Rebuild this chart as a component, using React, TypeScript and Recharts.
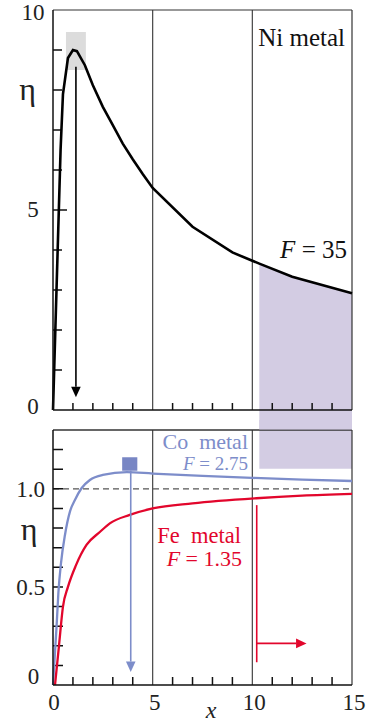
import React from 'react';
import {
  ComposedChart,
  Line,
  Area,
  XAxis,
  YAxis,
  ReferenceLine,
  ReferenceArea,
} from 'recharts';

// ---------- data ----------
const niX = [0, 0.38, 0.5, 0.75, 1.0, 1.2, 1.6, 2.0, 2.5, 3.0, 3.5, 4.0, 4.5, 5, 7, 9, 10, 10.35, 12, 15];
const niEta = [0, 6.5, 7.9, 8.8, 9.0, 8.97, 8.62, 8.12, 7.58, 7.12, 6.66, 6.27, 5.9, 5.55, 4.58, 3.94, 3.73, 3.66, 3.33, 2.92];
const NI_SHADE_FROM = 10.35;

const coX = [0, 0.18, 0.27, 0.4, 0.6, 0.85, 1.1, 1.43, 1.85, 2.5, 3.7, 5, 7.5, 10, 12.5, 15];
const coEta = [0, 0.3, 0.47, 0.62, 0.765, 0.884, 0.943, 1.003, 1.045, 1.071, 1.085, 1.078, 1.066, 1.056, 1.047, 1.04];

const feX = [0.1, 0.3, 0.5, 0.75, 1.15, 1.68, 2.35, 2.85, 3.85, 5, 7, 10.2, 12.5, 15];
const feEta = [0, 0.2, 0.4, 0.5, 0.61, 0.714, 0.78, 0.824, 0.867, 0.9, 0.926, 0.952, 0.965, 0.974];

const X_MINOR = [1, 2, 3, 4, 6, 7, 8, 9, 11, 12, 13, 14];
const X_LABELS = [0, 5, 10, 15];
const TOP_Y_TICKS = [0, 5, 10];
const TOP_Y_MINOR = [1, 2, 3, 4, 5, 6, 7, 8, 9];
const BOT_Y_TICKS = [0, 0.5, 1.0];
const BOT_Y_MINOR = [0.1, 0.2, 0.3, 0.4, 0.5, 0.6, 0.7, 0.8, 0.9, 1.0, 1.1, 1.2];
const BOT_Y_LABELS: Record<string, string> = { '0': '0', '0.5': '0.5', '1': '1.0' };

// annotations (data coordinates)
const niPeakBox = { x1: 0.65, x2: 1.65, y1: 8.5, y2: 9.45 };
const niArrow = { x: 1.15, from: 8.58, to: 0.32 };
const shadeX = { x1: 10.35, x2: 15 };
const shadeBottomY = 1.103;
const coSquare = { x1: 3.47, x2: 4.23, y1: 1.0925, y2: 1.161 };
const coArrow = { x: 3.9, from: 1.0925, to: 0.066 };
const feBar = { x: 10.22, from: 0.917, to: 0.116 };
const feArrow = { y: 0.212, from: 10.22, to: 12.72 };

const niData = niX.map((x, i) => ({
  x,
  eta: niEta[i],
  shade: x >= NI_SHADE_FROM ? niEta[i] : null,
}));
const coData = coX.map((x, i) => ({ x, eta: coEta[i] }));
const feData = feX.map((x, i) => ({ x, eta: feEta[i] }));

// ---------- styles ----------
const FONT = "'Liberation Serif', 'Times New Roman', Times, serif";
const BLUE = '#7d8dca';
const BLUE_SQ = '#7886c4';
const RED = '#e2062c';
const PURPLE = '#d3cce3';
const GRID = '#444';
const FRAME = '#333';

const txt = (size: number, fill: string, extra: React.CSSProperties = {}): React.CSSProperties => ({
  fontFamily: FONT,
  fontSize: size,
  fill,
  ...extra,
});

// ---------- custom shapes ----------
const ArrowShape = (p: any) => {
  const { x1, y1, x2, y2, stroke, strokeWidth } = p;
  const dx = x2 - x1;
  const dy = y2 - y1;
  const L = Math.hypot(dx, dy) || 1;
  const ux = dx / L;
  const uy = dy / L;
  const hl = 10.5;
  const hw = 4.8;
  const bx = x2 - ux * hl;
  const by = y2 - uy * hl;
  return (
    <g>
      <path d={`M${x1},${y1}L${bx},${by}`} stroke={stroke} strokeWidth={strokeWidth} fill="none" />
      <path
        d={`M${x2},${y2}L${bx - uy * hw},${by + ux * hw}L${bx + uy * hw},${by - ux * hw}Z`}
        fill={stroke}
        stroke="none"
      />
    </g>
  );
};

// inward ticks along an axis segment that runs from domain start (d0) to domain end (d1)
const makeAxisTicks = (values: number[], d0: number, d1: number, len: (v: number) => number, dir: 'h' | 'v') =>
  (p: any) => {
    const { x1, y1, x2, y2, stroke, strokeWidth } = p;
    const parts = values.map((v) => {
      const t = (v - d0) / (d1 - d0);
      const px = x1 + (x2 - x1) * t;
      const py = y1 + (y2 - y1) * t;
      const l = len(v);
      return dir === 'h' ? `M${px},${py}L${px + l},${py}` : `M${px},${py}L${px},${py - l}`;
    });
    return <path d={parts.join('')} stroke={stroke} strokeWidth={strokeWidth} fill="none" />;
  };

const topYTicksShape = makeAxisTicks(TOP_Y_MINOR, 0, 10, (v) => (v === 5 ? 14 : 9), 'h');
const topXTicksShape = makeAxisTicks(X_MINOR, 0, 15, () => 7, 'v');
const botYTicksShape = makeAxisTicks(BOT_Y_MINOR, 0, 1.3, () => 10, 'h');
const botXTicksShape = makeAxisTicks(X_MINOR, 0, 15, () => 8, 'v');

const TOP_Y_BASELINE: Record<number, number> = { 0: 4, 5: 7, 10: 10 };

const renderTopYTick = (props: any) => {
  const x = Number(props.x);
  const y = Number(props.y);
  const v = props.payload.value;
  return (
    <text key={`ty-${v}`} x={x - 20} y={y + (TOP_Y_BASELINE[v] ?? 7)} textAnchor="middle" style={txt(23, '#222')}>
      {v}
    </text>
  );
};

const renderBotYTick = (props: any) => {
  const x = Number(props.x);
  const y = Number(props.y);
  const v = props.payload.value;
  const label = BOT_Y_LABELS[String(v)] ?? String(v);
  const isZero = label === '0';
  return (
    <text
      key={`by-${v}`}
      x={isZero ? x - 19.5 : x - 8}
      y={isZero ? y - 1 : y + 8}
      textAnchor={isZero ? 'middle' : 'end'}
      style={txt(23, '#222')}
    >
      {label}
    </text>
  );
};

const renderBotXTick = (props: any) => {
  const x = Number(props.x);
  const y = Number(props.y);
  const v = props.payload.value;
  return (
    <text key={`bx-${v}`} x={v === 0 ? x + 1 : x + 2} y={y + 25} textAnchor="middle" style={txt(23, '#222')}>
      {v}
    </text>
  );
};

// ---------- charts ----------
// top panel: plot x 53..352, y 10..410 ; svg height 432
const TopChart = () => (
  <ComposedChart width={369} height={432} margin={{ top: 10, right: 17, bottom: 21, left: 52 }} data={niData}>
    <XAxis
      type="number"
      dataKey="x"
      domain={[0, 15]}
      ticks={X_LABELS}
      interval={0}
      height={1}
      tickSize={0}
      tickMargin={0}
      tickLine={false}
      axisLine={{ stroke: '#111', strokeWidth: 1.5 }}
      tick={false}
    />
    <YAxis
      type="number"
      domain={[0, 10]}
      ticks={TOP_Y_TICKS}
      interval={0}
      width={1}
      tickSize={0}
      tickMargin={0}
      tickLine={false}
      axisLine={{ stroke: '#111', strokeWidth: 1.5 }}
      tick={renderTopYTick}
    />
    <ReferenceArea {...niPeakBox} fill="#dcdcdc" fillOpacity={1} stroke="none" />
    <Area
      dataKey="shade"
      type="linear"
      fill={PURPLE}
      fillOpacity={1}
      stroke="none"
      isAnimationActive={false}
      dot={false}
      activeDot={false}
    />
    <ReferenceArea
      x1={shadeX.x1}
      x2={shadeX.x2}
      y1={-0.485}
      y2={0}
      ifOverflow="visible"
      fill={PURPLE}
      fillOpacity={1}
      stroke="none"
    />
    <ReferenceLine x={5} stroke={GRID} strokeWidth={1.2} />
    <ReferenceLine x={10} stroke={GRID} strokeWidth={1.2} />
    <ReferenceLine y={10} stroke={FRAME} strokeWidth={1.2} />
    <ReferenceLine x={15} stroke={FRAME} strokeWidth={1.2} />
    <ReferenceLine
      segment={[
        { x: 0, y: 0 },
        { x: 0, y: 10 },
      ]}
      stroke="#111"
      strokeWidth={1.5}
      shape={topYTicksShape}
    />
    <ReferenceLine
      segment={[
        { x: 0, y: 0 },
        { x: 15, y: 0 },
      ]}
      stroke="#111"
      strokeWidth={1.5}
      shape={topXTicksShape}
    />
    <Line
      dataKey="eta"
      type="linear"
      stroke="#000"
      strokeWidth={2.6}
      dot={false}
      activeDot={false}
      isAnimationActive={false}
    />
    <ReferenceLine
      segment={[
        { x: niArrow.x, y: niArrow.from },
        { x: niArrow.x, y: niArrow.to },
      ]}
      stroke="#000"
      strokeWidth={1.6}
      shape={ArrowShape}
    />
    <text x={345} y={46} textAnchor="end" style={txt(25, '#111')}>
      Ni metal
    </text>
    <text x={347} y={258} textAnchor="end" style={txt(25, '#111')}>
      <tspan style={{ fontStyle: 'italic' }}>F</tspan>
      <tspan> = 35</tspan>
    </text>
    <text x={27.5} y={100} textAnchor="middle" style={txt(32, '#222')}>
      η
    </text>
  </ComposedChart>
);

// bottom panel: plot x 53..352, page y 430..685 ; svg placed at page y 420
const BottomChart = () => (
  <ComposedChart width={369} height={307} margin={{ top: 10, right: 17, bottom: 41, left: 52 }}>
    <XAxis
      type="number"
      dataKey="x"
      domain={[0, 15]}
      ticks={X_LABELS}
      interval={0}
      height={1}
      tickSize={0}
      tickMargin={0}
      tickLine={false}
      axisLine={{ stroke: '#111', strokeWidth: 1.5 }}
      tick={renderBotXTick}
    />
    <YAxis
      type="number"
      domain={[0, 1.3]}
      ticks={BOT_Y_TICKS}
      interval={0}
      width={1}
      tickSize={0}
      tickMargin={0}
      tickLine={false}
      axisLine={{ stroke: '#111', strokeWidth: 1.5 }}
      tick={renderBotYTick}
    />
    <ReferenceArea
      x1={shadeX.x1}
      x2={shadeX.x2}
      y1={shadeBottomY}
      y2={1.351}
      ifOverflow="visible"
      fill={PURPLE}
      fillOpacity={1}
      stroke="none"
    />
    <ReferenceLine x={5} stroke={GRID} strokeWidth={1.2} />
    <ReferenceLine x={10} stroke={GRID} strokeWidth={1.2} />
    <ReferenceLine y={1.3} stroke={FRAME} strokeWidth={1.3} />
    <ReferenceLine x={15} stroke={FRAME} strokeWidth={1.2} />
    <ReferenceLine y={1} stroke="#555" strokeWidth={1.3} strokeDasharray="6 4" />
    <ReferenceLine
      segment={[
        { x: 0, y: 0 },
        { x: 0, y: 1.3 },
      ]}
      stroke="#111"
      strokeWidth={1.5}
      shape={botYTicksShape}
    />
    <ReferenceLine
      segment={[
        { x: 0, y: 0 },
        { x: 15, y: 0 },
      ]}
      stroke="#111"
      strokeWidth={1.5}
      shape={botXTicksShape}
    />
    <ReferenceArea {...coSquare} fill={BLUE_SQ} fillOpacity={1} stroke="none" />
    <Line
      data={coData}
      dataKey="eta"
      type="monotone"
      stroke={BLUE}
      strokeWidth={2.3}
      dot={false}
      activeDot={false}
      isAnimationActive={false}
    />
    <Line
      data={feData}
      dataKey="eta"
      type="monotone"
      stroke={RED}
      strokeWidth={2.3}
      dot={false}
      activeDot={false}
      isAnimationActive={false}
    />
    <ReferenceLine
      segment={[
        { x: coArrow.x, y: coArrow.from },
        { x: coArrow.x, y: coArrow.to },
      ]}
      stroke={BLUE}
      strokeWidth={1.6}
      shape={ArrowShape}
    />
    <ReferenceLine
      segment={[
        { x: feBar.x, y: feBar.from },
        { x: feBar.x, y: feBar.to },
      ]}
      stroke={RED}
      strokeWidth={1.6}
    />
    <ReferenceLine
      segment={[
        { x: feArrow.from, y: feArrow.y },
        { x: feArrow.to, y: feArrow.y },
      ]}
      stroke={RED}
      strokeWidth={1.6}
      shape={ArrowShape}
    />
    <text x={248} y={29} textAnchor="end" style={txt(22, BLUE, { whiteSpace: 'pre' })}>
      {'Co  metal'}
    </text>
    <text x={248} y={50} textAnchor="end" style={txt(19, BLUE)}>
      <tspan style={{ fontStyle: 'italic' }}>F</tspan>
      <tspan> = 2.75</tspan>
    </text>
    <text x={241} y={123} textAnchor="end" style={txt(22.5, RED, { whiteSpace: 'pre' })}>
      {'Fe  metal'}
    </text>
    <text x={242} y={146} textAnchor="end" style={txt(22, RED)}>
      <tspan style={{ fontStyle: 'italic' }}>F</tspan>
      <tspan> = 1.35</tspan>
    </text>
    <text x={29} y={120} textAnchor="middle" style={txt(32, '#222')}>
      η
    </text>
    <text x={211} y={298} textAnchor="middle" style={txt(24, '#222', { fontStyle: 'italic' })}>
      x
    </text>
  </ComposedChart>
);

export default function App() {
  return (
    <div style={{ position: 'absolute', left: 0, top: 0, width: 369, height: 727, background: '#fff' }}>
      <div style={{ position: 'absolute', left: 0, top: 420 }}>
        <BottomChart />
      </div>
      <div style={{ position: 'absolute', left: 0, top: 0 }}>
        <TopChart />
      </div>
    </div>
  );
}
